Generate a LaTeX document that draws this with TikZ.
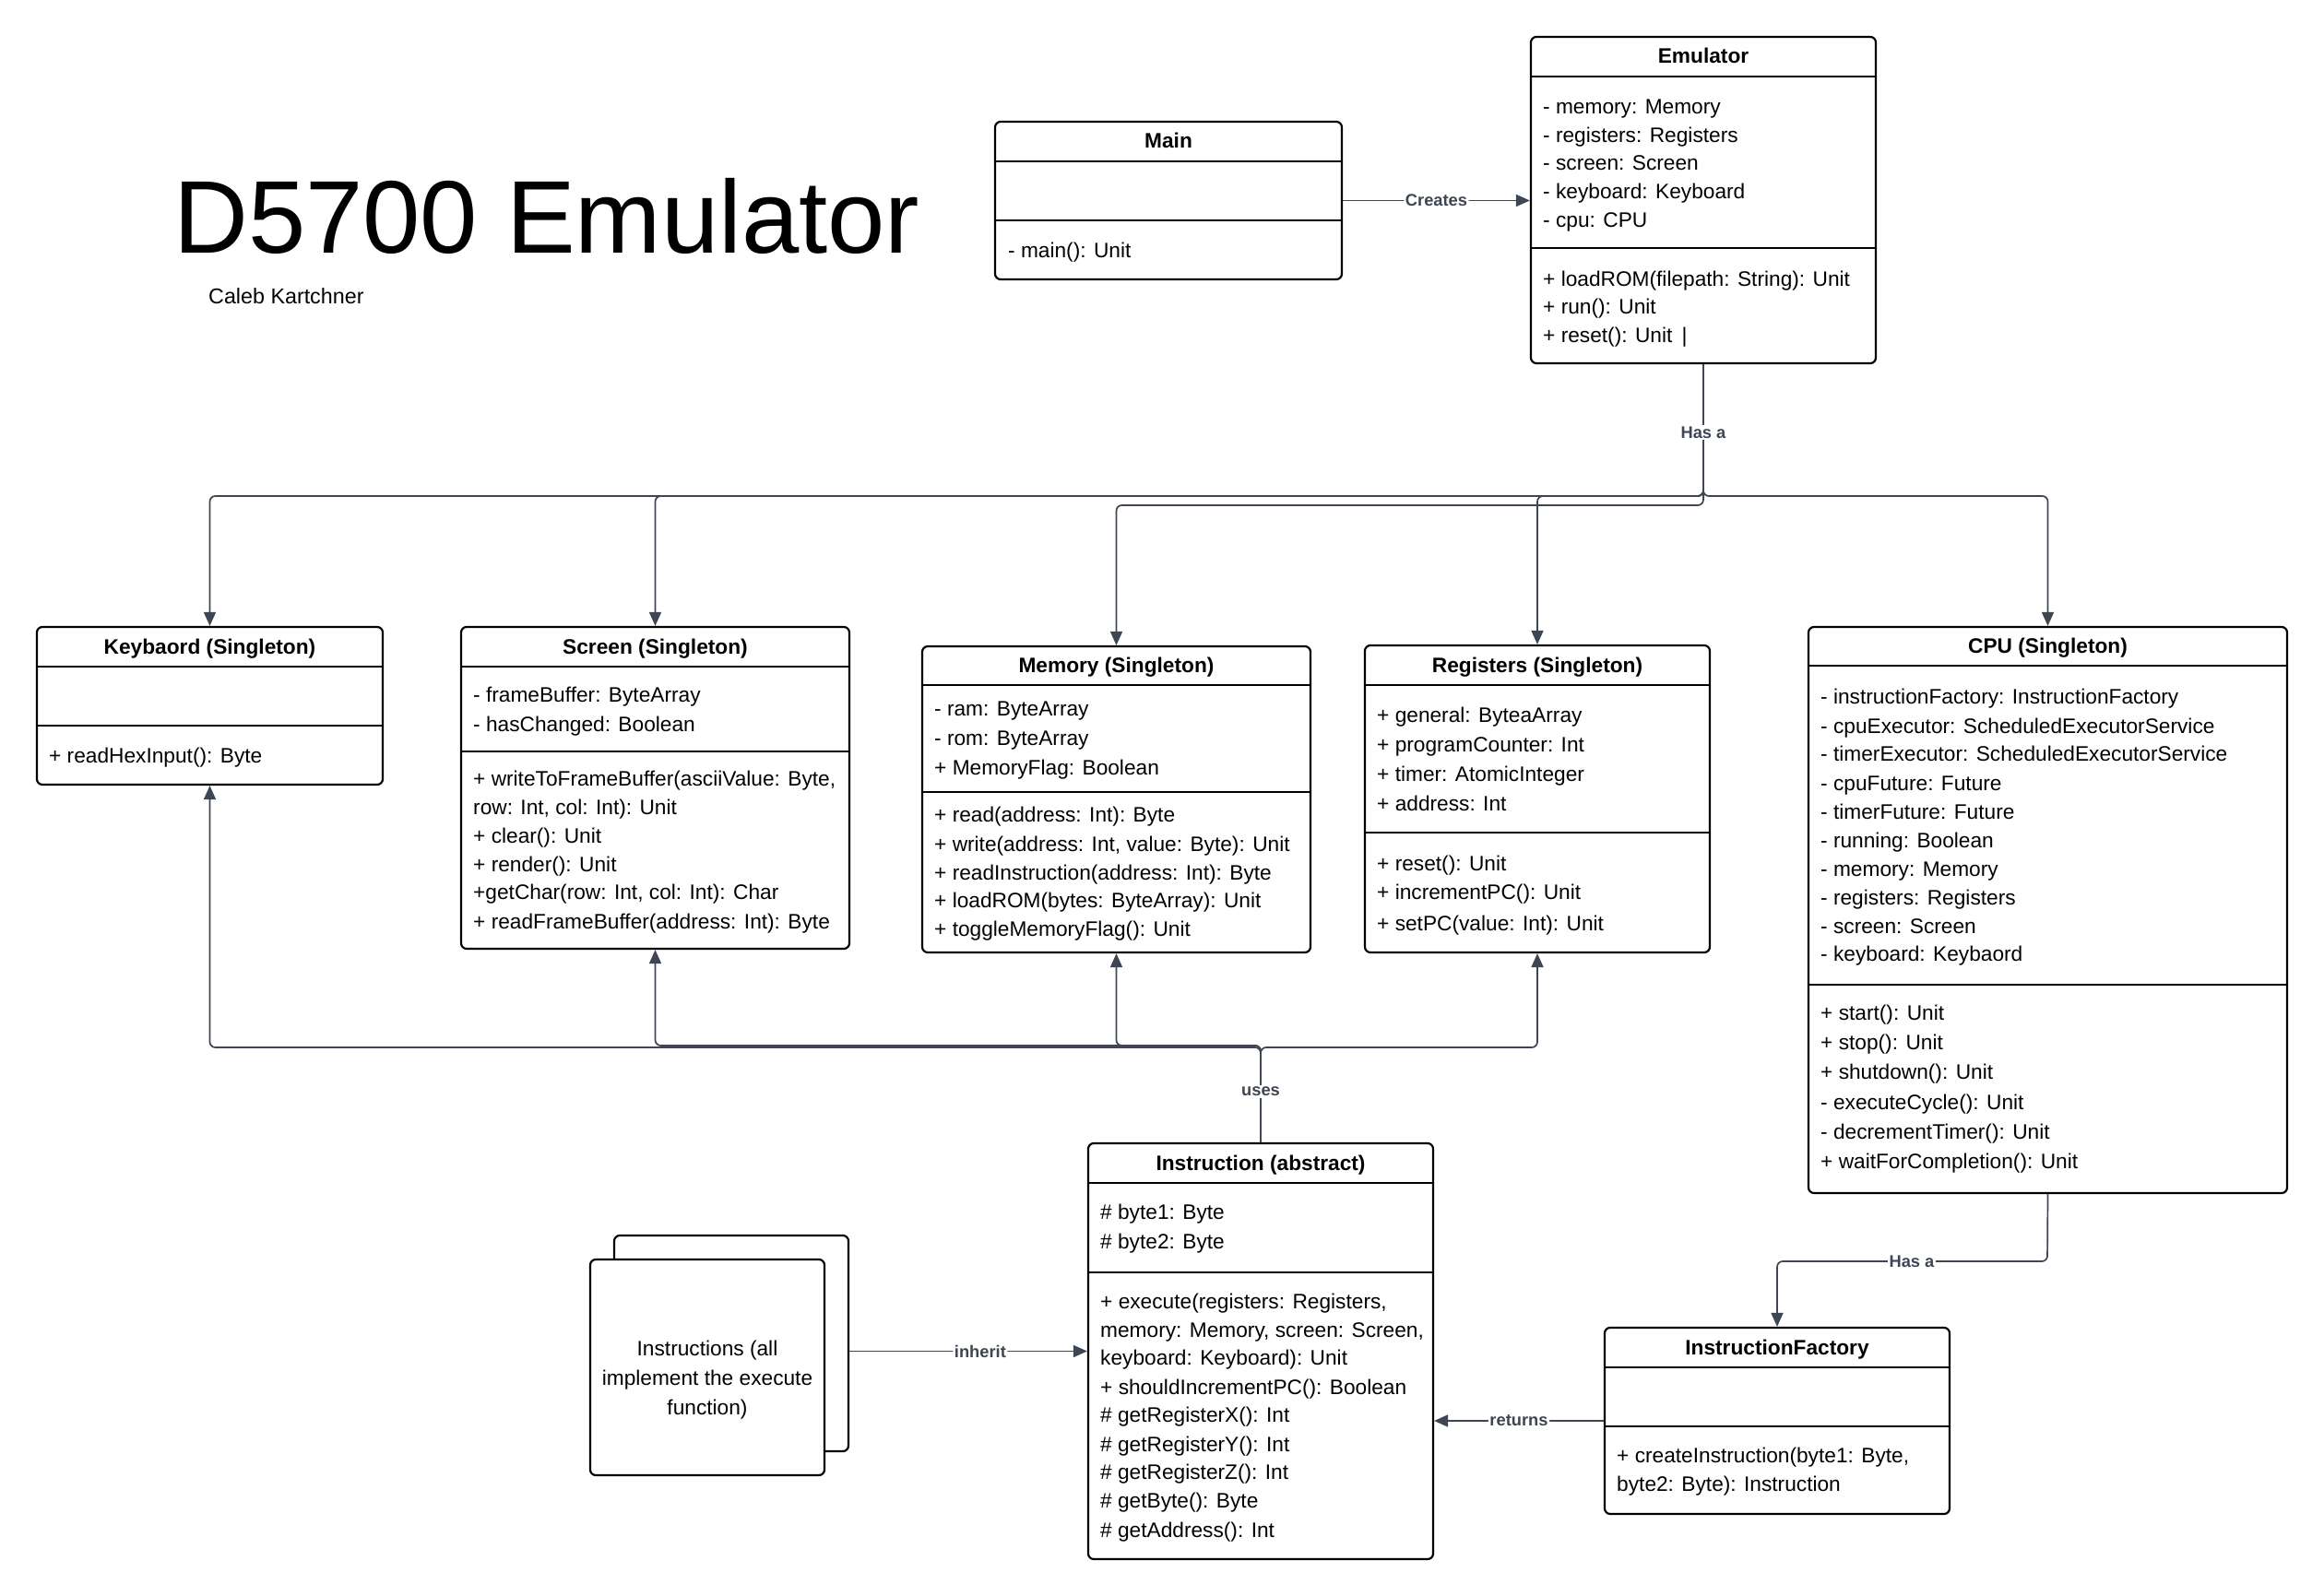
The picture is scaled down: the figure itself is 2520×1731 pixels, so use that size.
\documentclass[tikz,border=0pt]{standalone}
\usepackage{fontspec}
\setmainfont{Liberation Sans}
\usetikzlibrary{arrows.meta}
\definecolor{connc}{HTML}{3F4653}
\newcounter{clsln}
\newcommand\clsline[3]{\stepcounter{clsln}\node[mtext] (ln\arabic{clsln}) at (#1,#2) {#3};}
\newcommand\umlclass[8]{%
  \node[classbox,minimum width={(#4-#2)*1pt},minimum height={(#5-#3)*1pt}] (#1) at ({(#2+#4)/2},{(#3+#5)/2}) {};
  \draw[sepline] (#2,#6) -- (#4,#6);
  \draw[sepline] (#2,#7) -- (#4,#7);
  \node[ctitle] (#1-t) at ({(#2+#4)/2},{(#3+#6)/2}) {#8};
}
\begin{document}
\begin{tikzpicture}[x=1pt,y=-1pt,
  classbox/.style={draw=black,line width=2.2pt,rounded corners=6pt,fill=white,inner sep=0pt},
  sepline/.style={draw=black,line width=2.2pt},
  ctitle/.style={font=\fontsize{22.7}{26}\selectfont\bfseries,inner sep=0pt,text height=18pt,text depth=3pt},
  mtext/.style={anchor=west,font=\fontsize{22.7}{26}\selectfont,inner sep=0pt,text height=18pt,text depth=3pt},
  conn/.style={draw=connc,line width=1.7pt,rounded corners=6pt,-{Triangle[length=15pt,width=13pt]}},
  elabel/.style={fill=white,inner sep=1.5pt,text=connc,font=\fontsize{18.3}{20}\selectfont\bfseries}
]
\fill[white] (0,0) rectangle (2520,1731);
\useasboundingbox (0,0) rectangle (2520,1731);

% title
\node[anchor=base west,inner sep=0pt,font=\fontsize{112}{124}\selectfont] (title) at (188,274) {D5700 Emulator};
\node[anchor=base west,inner sep=0pt,font=\fontsize{23.3}{26}\selectfont] (author) at (226,329) {Caleb Kartchner};

% Main
\umlclass{main}{1079}{132}{1455}{303}{175}{239}{Main}
\clsline{1093}{272}{- main(): Unit}

% Emulator
\umlclass{emu}{1660}{40}{2034}{394}{83}{269}{Emulator}
\clsline{1673}{116}{- memory: Memory}
\clsline{1673}{147}{- registers: Registers}
\clsline{1673}{177}{- screen: Screen}
\clsline{1673}{208}{- keyboard: Keyboard}
\clsline{1673}{239}{- cpu: CPU}
\clsline{1673}{303}{+ loadROM(filepath: String): Unit}
\clsline{1673}{333}{+ run(): Unit}
\clsline{1673}{364}{+ reset(): Unit \,|}

% Keyboard
\umlclass{kbd}{40}{680}{415}{851}{723}{787}{Keybaord (Singleton)}
\clsline{53}{820}{+ readHexInput(): Byte}

% Screen
\umlclass{scr}{500}{680}{921}{1029}{723}{815}{Screen (Singleton)}
\clsline{513}{754}{- frameBuffer: ByteArray}
\clsline{513}{786}{- hasChanged: Boolean}
\clsline{513}{845}{+ writeToFrameBuffer(asciiValue: Byte,}
\clsline{513}{876}{row: Int, col: Int): Unit}
\clsline{513}{907}{+ clear(): Unit}
\clsline{513}{938}{+ render(): Unit}
\clsline{513}{968}{+getChar(row: Int, col: Int): Char}
\clsline{513}{1000}{+ readFrameBuffer(address: Int): Byte}

% Memory
\umlclass{mem}{1000}{701}{1421}{1033}{743}{859}{Memory (Singleton)}
\clsline{1013}{769}{- ram: ByteArray}
\clsline{1013}{801}{- rom: ByteArray}
\clsline{1013}{833}{+ MemoryFlag: Boolean}
\clsline{1013}{884}{+ read(address: Int): Byte}
\clsline{1013}{916}{+ write(address: Int, value: Byte): Unit}
\clsline{1013}{947}{+ readInstruction(address: Int): Byte}
\clsline{1013}{977}{+ loadROM(bytes: ByteArray): Unit}
\clsline{1013}{1008}{+ toggleMemoryFlag(): Unit}

% Registers
\umlclass{reg}{1480}{700}{1854}{1033}{743}{903}{Registers (Singleton)}
\clsline{1493}{776}{+ general: ByteaArray}
\clsline{1493}{808}{+ programCounter: Int}
\clsline{1493}{840}{+ timer: AtomicInteger}
\clsline{1493}{872}{+ address: Int}
\clsline{1493}{937}{+ reset(): Unit}
\clsline{1493}{968}{+ incrementPC(): Unit}
\clsline{1493}{1002}{+ setPC(value: Int): Unit}

% CPU
\umlclass{cpu}{1961}{680}{2480}{1294}{722}{1068}{CPU (Singleton)}
\clsline{1974}{756}{- instructionFactory: InstructionFactory}
\clsline{1974}{788}{- cpuExecutor: ScheduledExecutorService}
\clsline{1974}{818}{- timerExecutor: ScheduledExecutorService}
\clsline{1974}{850}{- cpuFuture: Future}
\clsline{1974}{881}{- timerFuture: Future}
\clsline{1974}{912}{- running: Boolean}
\clsline{1974}{943}{- memory: Memory}
\clsline{1974}{974}{- registers: Registers}
\clsline{1974}{1005}{- screen: Screen}
\clsline{1974}{1035}{- keyboard: Keybaord}
\clsline{1974}{1099}{+ start(): Unit}
\clsline{1974}{1131}{+ stop(): Unit}
\clsline{1974}{1163}{+ shutdown(): Unit}
\clsline{1974}{1196}{- executeCycle(): Unit}
\clsline{1974}{1228}{- decrementTimer(): Unit}
\clsline{1974}{1260}{+ waitForCompletion(): Unit}

% Instruction
\umlclass{ins}{1180}{1240}{1554}{1691}{1283}{1380}{Instruction (abstract)}
\clsline{1193}{1315}{\# byte1: Byte}
\clsline{1193}{1347}{\# byte2: Byte}
\clsline{1193}{1412}{+ execute(registers: Registers,}
\clsline{1193}{1443}{memory: Memory, screen: Screen,}
\clsline{1193}{1473}{keyboard: Keyboard): Unit}
\clsline{1193}{1505}{+ shouldIncrementPC(): Boolean}
\clsline{1193}{1535}{\# getRegisterX(): Int}
\clsline{1193}{1567}{\# getRegisterY(): Int}
\clsline{1193}{1597}{\# getRegisterZ(): Int}
\clsline{1193}{1628}{\# getByte(): Byte}
\clsline{1193}{1660}{\# getAddress(): Int}

% InstructionFactory
\umlclass{fac}{1740}{1440}{2114}{1642}{1483}{1547}{InstructionFactory}
\clsline{1753}{1579}{+ createInstruction(byte1: Byte,}
\clsline{1753}{1610}{byte2: Byte): Instruction}

% Instructions stack
\node[classbox,minimum width=254pt,minimum height=234pt] (stackback) at (793,1457) {};
\node[classbox,minimum width=254pt,minimum height=234pt] (stack) at (767,1483) {};
\node[align=center,inner sep=0pt,font=\fontsize{22.7}{32}\selectfont] (stacktext) at (767,1497) {Instructions (all\\implement the execute\\function)};

% connectors
\coordinate (hasa) at (1847,538);
\coordinate (hasam) at (1847,548);
\draw[conn] (main.east) -- node[elabel] (lcreates) {Creates} (main.east -| emu.west);
\draw[conn] (emu.south) -- (hasa) -| (kbd.north);
\draw[conn] (emu.south) -- (hasa) -| (scr.north);
\draw[conn] (emu.south) -- (hasam) -| (mem.north);
\draw[conn] (emu.south) -- (hasa) -| (reg.north);
\draw[conn] (emu.south) -- (hasa) -| (cpu.north);
\node[elabel] (lhasa) at (1847,469) {Has a};

\coordinate (usesj) at (1367,1136);
\coordinate (usesk) at (1367,1134);
\draw[conn] (ins.north) -- (usesj) -| (kbd.south);
\draw[conn] (ins.north) -- (usesk) -| (scr.south);
\draw[conn] (ins.north) -- (usesk) -| (mem.south);
\draw[conn] (ins.north) -- (usesj) -| (reg.south);
\node[elabel] (luses) at (1367,1184) {uses};

\coordinate (cpuj) at (2220,1368);
\draw[conn] (cpu.south) -- (cpuj) -| (fac.north);
\node[elabel] (lhasa2) at (2073,1368) {Has a};

\draw[conn] (fac.west) -- node[elabel] (lreturns) {returns} (fac.west -| ins.east);
\draw[conn] (stackback.east |- ins.west) -- node[elabel,pos=0.55] (linherit) {inherit} (ins.west);
\end{tikzpicture}
\end{document}
